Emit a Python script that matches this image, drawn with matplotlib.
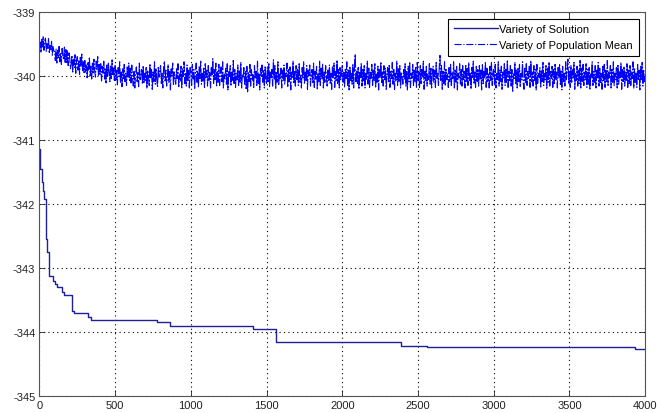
import numpy as np
import matplotlib
matplotlib.use('Agg')
import matplotlib.pyplot as plt

# best solution per generation (change points, steps-post)
sol_gen = [0, 3, 18, 24, 30, 41, 43, 45, 47, 63, 91, 100, 113, 151, 165, 212, 230,
           322, 338, 532, 774, 862, 1412, 1562, 2388, 2557, 3933, 4000]
sol_val = [-341.14, -341.45, -341.65, -341.80, -341.92, -342.00, -342.30, -342.55,
           -342.75, -343.12, -343.20, -343.25, -343.30, -343.38, -343.42, -343.67,
           -343.71, -343.77, -343.81, -343.82, -343.84, -343.91, -343.95, -344.15,
           -344.22, -344.24, -344.27, -344.27]

# population mean, read every 5 generations (one row = 100 generations)
pop_mean = [
    -339.58, -339.47, -339.64, -339.43, -339.55, -339.38, -339.60, -339.45, -339.41, -339.62, -339.49, -339.57, -339.42, -339.65, -339.52, -339.59, -339.46, -339.68, -339.54, -339.61,
    -339.62, -339.76, -339.58, -339.80, -339.60, -339.73, -339.54, -339.78, -339.63, -339.82, -339.57, -339.70, -339.75, -339.55, -339.79, -339.59, -339.81, -339.61, -339.84, -339.64,
    -339.72, -339.89, -339.81, -339.68, -339.94, -339.74, -339.87, -339.67, -339.96, -339.77, -339.70, -339.91, -339.75, -339.98, -339.71, -339.85, -339.66, -339.92, -339.78, -339.95,
    -339.76, -339.95, -339.83, -340.03, -339.78, -339.91, -339.72, -340.00, -339.85, -340.05, -339.80, -339.97, -339.74, -339.93, -340.02, -339.77, -339.90, -339.70, -339.99, -339.82,
    -339.99, -339.81, -340.08, -339.85, -339.96, -339.77, -340.05, -339.88, -340.11, -339.83, -340.01, -339.79, -339.94, -340.09, -339.84, -340.04, -339.75, -339.98, -339.87, -340.07,
    -339.84, -340.06, -339.91, -340.14, -339.87, -340.01, -339.78, -340.11, -339.94, -340.17, -339.89, -340.04, -339.82, -340.09, -339.96, -340.15, -339.86, -340.02, -339.80, -340.07,
    -339.88, -340.11, -339.83, -340.05, -340.16, -339.93, -340.19, -339.97, -339.86, -340.09, -339.95, -340.17, -339.80, -340.06, -339.99, -339.90, -340.13, -339.84, -340.12, -339.96,
    -340.07, -339.87, -340.20, -339.91, -339.99, -340.15, -339.81, -340.03, -339.90, -340.21, -339.94, -340.09, -339.78, -340.13, -339.88, -340.06, -340.18, -339.85, -340.02, -339.92,
    -339.84, -340.12, -339.96, -340.19, -339.87, -339.77, -340.08, -339.91, -340.16, -340.03, -339.82, -340.10, -339.93, -340.22, -339.89, -340.00, -339.80, -340.15, -339.94, -340.06,
    -340.13, -339.89, -340.04, -339.81, -340.17, -339.97, -340.09, -339.85, -340.20, -339.88, -340.01, -339.78, -340.12, -339.95, -340.16, -339.83, -340.08, -339.91, -340.19, -339.87,
    -339.94, -340.15, -339.82, -340.05, -339.90, -340.21, -339.98, -339.80, -340.10, -339.93, -340.18, -339.86, -340.04, -339.77, -340.13, -339.96, -340.09, -339.88, -340.20, -339.81,
    -340.03, -339.91, -340.16, -339.84, -340.07, -339.95, -340.19, -339.87, -340.00, -339.73, -340.12, -339.90, -340.06, -339.80, -340.17, -339.93, -340.10, -339.82, -340.15, -339.96,
    -339.86, -340.09, -339.78, -340.19, -339.97, -340.04, -339.88, -340.13, -339.81, -340.22, -339.92, -340.01, -339.84, -340.16, -339.94, -340.07, -339.76, -340.12, -339.90, -340.18,
    -339.96, -340.06, -339.83, -340.15, -339.91, -340.10, -339.79, -340.19, -339.99, -340.03, -339.87, -340.13, -339.93, -340.20, -339.85, -340.26, -339.95, -340.09, -339.82, -340.16,
    -339.90, -340.08, -339.98, -340.18, -339.84, -340.04, -339.93, -340.15, -339.77, -340.12, -339.97, -340.22, -339.88, -340.01, -339.83, -340.10, -339.91, -340.19, -339.86, -340.06,
    -340.13, -339.87, -340.09, -339.81, -340.17, -339.94, -340.03, -339.90, -340.16, -339.75, -340.06, -339.84, -340.21, -339.93, -340.10, -339.78, -340.15, -339.97, -340.04, -339.88,
    -340.19, -339.91, -340.07, -339.83, -340.13, -339.96, -340.01, -339.80, -340.18, -339.90, -340.09, -339.86, -340.22, -339.94, -340.04, -339.77, -340.12, -339.93, -340.16, -339.84,
    -340.06, -339.88, -340.15, -339.81, -340.10, -339.99, -340.19, -339.87, -340.03, -339.78, -340.13, -339.94, -340.07, -339.84, -340.21, -339.91, -340.00, -339.83, -340.16, -339.96,
    -339.90, -340.12, -339.80, -340.18, -339.93, -340.06, -339.85, -340.22, -339.97, -340.09, -339.77, -340.15, -339.88, -340.04, -339.81, -340.19, -339.94, -340.10, -339.84, -340.01,
    -340.16, -339.91, -340.07, -339.83, -340.13, -339.96, -340.21, -339.86, -340.03, -339.80, -340.18, -339.93, -340.09, -339.75, -340.12, -339.90, -340.19, -339.87, -340.06, -339.97,
    -339.84, -340.10, -339.94, -340.18, -339.88, -340.04, -339.78, -340.15, -339.91, -340.22, -339.85, -340.07, -339.96, -340.13, -339.81, -340.19, -339.90, -339.66, -340.09, -339.93,
    -340.12, -339.87, -340.21, -339.93, -340.03, -339.80, -340.16, -339.90, -340.09, -339.84, -340.19, -339.96, -340.06, -339.77, -340.13, -339.88, -340.18, -339.94, -340.04, -339.82,
    -340.15, -339.91, -340.07, -339.81, -340.19, -339.97, -340.10, -339.85, -340.22, -339.90, -340.03, -339.78, -340.12, -339.94, -340.16, -339.84, -340.06, -339.88, -340.21, -339.96,
    -339.87, -340.09, -339.82, -340.18, -339.93, -340.04, -339.79, -340.13, -339.90, -340.21, -339.96, -340.07, -339.77, -340.15, -339.88, -340.10, -339.84, -340.19, -339.94, -340.01,
    -340.13, -339.90, -340.06, -339.81, -340.16, -339.93, -340.22, -339.85, -340.09, -339.78, -340.18, -339.96, -340.04, -339.82, -340.15, -339.91, -340.10, -339.87, -340.19, -339.79,
    -340.07, -339.94, -340.18, -339.84, -340.12, -339.90, -340.03, -339.77, -340.21, -339.93, -340.09, -339.85, -340.16, -339.97, -340.06, -339.81, -340.13, -339.88, -340.19, -339.94,
    -339.85, -340.10, -339.91, -340.18, -339.79, -340.04, -339.96, -340.15, -339.88, -339.68, -340.07, -339.84, -340.21, -339.93, -340.12, -339.78, -340.16, -339.90, -340.06, -339.97,
    -340.18, -339.87, -340.09, -339.82, -340.15, -339.94, -340.04, -339.78, -340.19, -339.91, -340.10, -339.85, -340.22, -339.96, -340.03, -339.81, -340.13, -339.90, -340.16, -339.84,
    -340.06, -339.93, -340.19, -339.82, -340.10, -339.88, -340.15, -339.79, -340.07, -339.96, -340.21, -339.87, -340.04, -339.77, -340.13, -339.94, -340.18, -339.85, -340.09, -339.90,
    -340.16, -339.84, -340.06, -339.91, -340.22, -339.81, -340.12, -339.93, -340.03, -339.78, -340.18, -339.88, -340.09, -339.97, -340.19, -339.85, -340.07, -339.79, -340.15, -339.94,
    -339.90, -340.13, -339.82, -340.19, -339.96, -340.06, -339.78, -340.16, -339.91, -340.09, -339.85, -340.21, -339.94, -340.03, -339.81, -340.15, -339.88, -340.10, -339.75, -340.18,
    -339.93, -340.07, -339.84, -340.16, -339.90, -340.24, -339.97, -340.04, -339.79, -340.13, -339.91, -340.19, -339.87, -340.09, -339.82, -340.18, -339.96, -340.06, -339.78, -340.12,
    -340.21, -339.88, -340.10, -339.81, -340.15, -339.93, -340.04, -339.85, -340.18, -339.76, -340.09, -339.94, -340.16, -339.84, -340.07, -339.90, -340.22, -339.82, -340.12, -339.96,
    -340.03, -339.87, -340.19, -339.91, -340.09, -339.79, -340.15, -339.96, -340.06, -339.84, -340.21, -339.88, -340.10, -339.78, -340.16, -339.93, -340.04, -339.85, -340.18, -339.90,
    -340.12, -339.82, -340.07, -339.94, -340.19, -339.87, -340.03, -339.81, -340.15, -339.91, -340.22, -339.85, -340.09, -339.96, -340.16, -339.78, -340.06, -339.90, -339.74, -340.13,
    -339.93, -340.18, -339.84, -340.10, -339.90, -340.04, -339.79, -340.21, -339.96, -340.07, -339.85, -340.16, -339.91, -340.12, -339.76, -340.19, -339.88, -340.09, -339.82, -340.15,
    -339.94, -340.06, -339.81, -340.18, -339.90, -340.13, -339.87, -340.22, -339.97, -340.04, -339.78, -340.15, -339.93, -340.10, -339.84, -340.19, -339.91, -340.03, -339.79, -340.16,
    -339.88, -340.12, -339.96, -340.21, -339.85, -340.07, -339.82, -340.18, -339.91, -340.09, -339.76, -340.15, -339.94, -340.04, -339.84, -340.19, -339.90, -340.10, -339.78, -340.16,
    -339.96, -340.06, -339.87, -340.19, -339.82, -340.13, -339.93, -340.03, -339.79, -340.21, -339.90, -340.09, -339.85, -340.16, -339.94, -340.07, -339.81, -340.18, -339.91, -340.12,
    -339.84, -340.15, -339.93, -340.04, -339.78, -340.19, -339.88, -340.10, -339.96, -340.18, -339.82, -340.07, -339.91, -340.22, -339.85, -340.06, -339.79, -340.16, -339.90, -340.09,
    -339.98,
]
pop_gen = np.arange(len(pop_mean)) * 5

x_ticks = [0, 500, 1000, 1500, 2000, 2500, 3000, 3500, 4000]
y_ticks = [-345, -344, -343, -342, -341, -340, -339]

plt.rcParams['font.family'] = ['Liberation Sans', 'DejaVu Sans']
plt.rcParams['font.size'] = 8
plt.rcParams['axes.unicode_minus'] = False

fig = plt.figure(figsize=(6.57, 4.14), dpi=100)
ax = fig.add_axes([0.060, 0.041, 0.922, 0.928])

ax.plot(sol_gen, sol_val, color='#1f1f9a', lw=1.0, drawstyle='steps-post',
        label='Variety of Solution')
ax.plot(pop_gen, pop_mean, color='#0000ff', lw=0.8, ls=(0, (12, 1.5, 1.5, 1.5)),
        label='Variety of Population Mean')

ax.set_xlim(0, 4000)
ax.set_ylim(-345, -339)
ax.set_xticks(x_ticks)
ax.set_yticks(y_ticks)
ax.tick_params(direction='in', length=4, width=0.6, top=True, right=True,
               labeltop=False, labelright=False, colors='#222222', pad=3)
ax.grid(True, ls=(0, (1, 3)), color='#000000', lw=0.8)
for s in ax.spines.values():
    s.set_color('#555555')
    s.set_linewidth(0.8)

leg = ax.legend(loc='upper right', fancybox=False, framealpha=1,
                edgecolor='#000000', borderpad=0.5, handlelength=4.0,
                handletextpad=0.1, labelspacing=0.55, borderaxespad=0.6)
leg.get_frame().set_linewidth(0.8)
# the dash-dot handle should show the standard pattern
leg.get_lines()[1].set_linestyle('-.')
leg.get_lines()[1].set_linewidth(0.8)

fig.savefig('out.png', dpi=100)
